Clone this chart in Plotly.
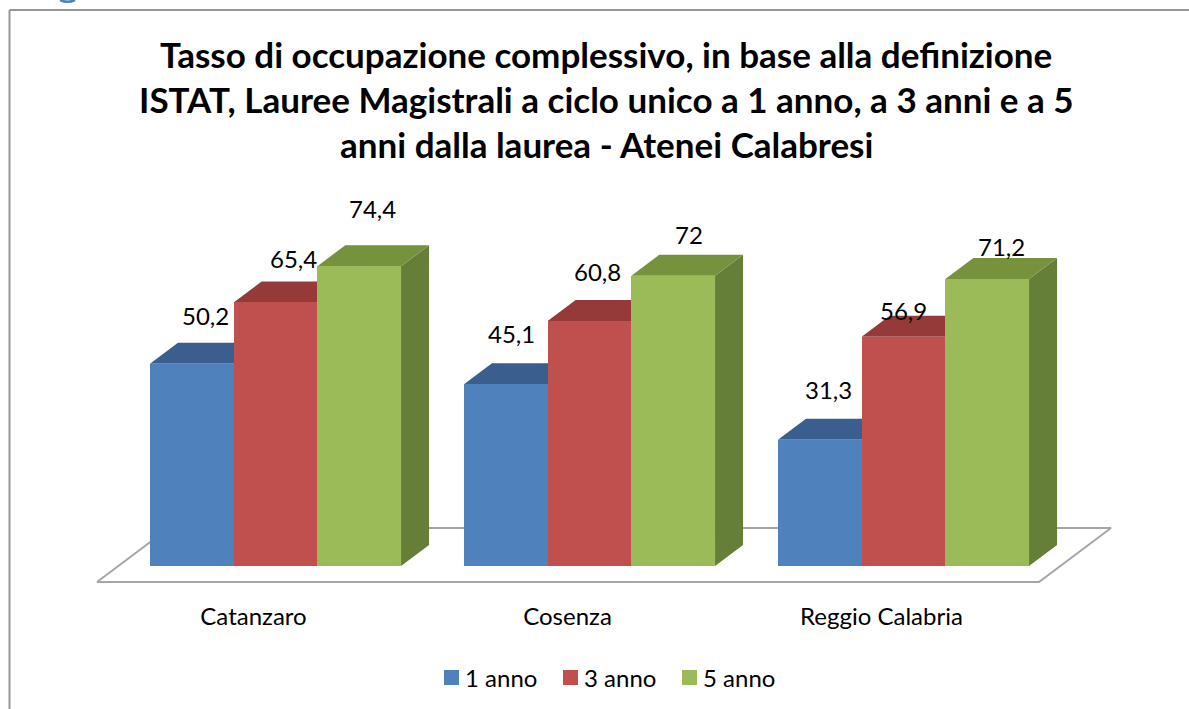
import plotly.graph_objects as go

categories = ["Catanzaro", "Cosenza", "Reggio Calabria"]
series_names = ["1 anno", "3 anno", "5 anno"]
values_1_anno = [50.2, 45.1, 31.3]
values_3_anno = [65.4, 60.8, 56.9]
values_5_anno = [74.4, 72, 71.2]
title_lines = [
    "Tasso di occupazione complessivo, in base alla definizione",
    "ISTAT, Lauree Magistrali a ciclo unico a 1 anno, a 3 anni e a 5",
    "anni dalla laurea - Atenei Calabresi",
]

FONT = "Lato"
W, H = 1189, 709
L, R, T, B = 90, 1120, 190, 590      # plot area in page pixels
GROUP_PX = 314.0                     # pixels per category
Y_PX = 4.03                          # pixels per unit
X0_PX = 275.5                        # centre of the first group
BASE_PX = 566.0                      # y = 0
BAR_W = 83.7 / GROUP_PX
DX = 28.0 / GROUP_PX                 # receding depth in axis units
DY = 21.0 / Y_PX

x_range = [(L - X0_PX) / GROUP_PX, (R - X0_PX) / GROUP_PX]
y_range = [(BASE_PX - B) / Y_PX, (BASE_PX - T) / Y_PX]

series = [values_1_anno, values_3_anno, values_5_anno]
front = ["#4F81BD", "#C0504D", "#9BBB59"]
top = ["#3A5F8E", "#953A38", "#76923C"]
side = ["#2F4D73", "#7A2F2D", "#667F38"]

fig = go.Figure()

# floor, in axis units, around the category span
fl = -16.0 / Y_PX
fb = 38.0 / Y_PX
fx0 = (97 - X0_PX) / GROUP_PX
fx1 = (1039 - X0_PX) / GROUP_PX
fdx = 72.0 / GROUP_PX
fig.add_trace(go.Scatter(
    x=[fx0, fx1, fx1 + fdx, fx0 + fdx, fx0], y=[fl, fl, fb, fb, fl],
    mode="lines", line=dict(color="#A6A6A6", width=2), fill="toself",
    fillcolor="white", showlegend=False, hoverinfo="skip"))

# receding faces of every bar
for s, vals in enumerate(series):
    off = (s - 1) * BAR_W
    for i, v in enumerate(vals):
        x1 = i + off + BAR_W / 2
        x0 = x1 - BAR_W
        fig.add_trace(go.Scatter(
            x=[x1, x1 + DX, x1 + DX, x1, x1], y=[0, DY, v + DY, v, 0],
            mode="lines", line=dict(width=0), fill="toself", fillcolor=side[s],
            showlegend=False, hoverinfo="skip"))
        fig.add_trace(go.Scatter(
            x=[x0, x1, x1 + DX, x0 + DX, x0], y=[v, v, v + DY, v + DY, v],
            mode="lines", line=dict(width=0), fill="toself", fillcolor=top[s],
            showlegend=False, hoverinfo="skip"))

# front faces, on an overlay pair of axes so they stay above the receding faces
for s, vals in enumerate(series):
    fig.add_trace(go.Bar(
        x=[i + (s - 1) * BAR_W for i in range(len(categories))], y=vals, width=BAR_W,
        name=series_names[s], marker=dict(color=front[s], line=dict(width=0)),
        showlegend=False, xaxis="x2", yaxis="y2"))

# label offsets from each bar's top centre, in pixels
label_dx = [[14, 6, 9], [18, 8, 0], [13, 16, 14]]
label_dy = [[48, 51, 50], [44, 49, 26], [58, 41, 33]]
annotations = []
for s, vals in enumerate(series):
    for i, v in enumerate(vals):
        annotations.append(dict(
            x=i + (s - 1) * BAR_W, y=v, xref="x", yref="y",
            text=f"{v:g}".replace(".", ","), showarrow=False,
            xshift=label_dx[s][i], yshift=label_dy[s][i],
            font=dict(family=FONT, size=24, color="black")))

title_y = [54, 99, 144]
for line, y in zip(title_lines, title_y):
    annotations.append(dict(
        x=606 / W, y=1 - y / H, xref="paper", yref="paper", text=f"<b>{line}</b>",
        showarrow=False, xanchor="center", yanchor="middle",
        font=dict(family=FONT, size=35, color="black")))

shapes = [
    dict(type="line", xref="paper", yref="paper", x0=9.5 / W, x1=1, y0=1 - 10 / H, y1=1 - 10 / H,
         line=dict(color="#969696", width=2)),
    dict(type="line", xref="paper", yref="paper", x0=9.5 / W, x1=9.5 / W, y0=0, y1=1 - 10 / H,
         line=dict(color="#969696", width=2)),
    # clipped remnant of the page heading above the chart
    dict(type="path", xref="paper", yref="paper",
         path=f"M {60 / W} 1 Q {67.5 / W} {1 - 3.5 / H} {75 / W} 1",
         line=dict(color="#4F81BD", width=2.5)),
]

# legend row
legend_x = [444, 563, 682]
for name, color, lx in zip(series_names, front, legend_x):
    shapes.append(dict(type="rect", xref="paper", yref="paper", x0=lx / W, x1=(lx + 15) / W,
                       y0=1 - 685 / H, y1=1 - 670 / H, fillcolor=color, line=dict(width=0)))
    annotations.append(dict(
        x=(lx + 19) / W, y=1 - 677 / H, xref="paper", yref="paper", text=name, showarrow=False,
        xanchor="left", yanchor="middle", font=dict(family=FONT, size=24, color="black")))

axis_x = dict(range=x_range, domain=[L / W, R / W], showgrid=False, zeroline=False,
              showline=False)
axis_y = dict(range=y_range, domain=[1 - B / H, 1 - T / H], showgrid=False, zeroline=False,
              showline=False, showticklabels=False, ticks="")

fig.update_layout(
    width=W, height=H, autosize=False,
    margin=dict(l=0, r=0, t=0, b=0),
    paper_bgcolor="white", plot_bgcolor="rgba(0,0,0,0)",
    font=dict(family=FONT, size=24, color="black"),
    barmode="overlay", bargap=0,
    xaxis=dict(axis_x, tickmode="array",
               tickvals=[i - 22.0 / GROUP_PX for i in range(len(categories))],
               ticktext=categories, ticks="", ticklabelstandoff=10,
               tickfont=dict(family=FONT, size=24, color="black")),
    yaxis=axis_y,
    xaxis2=dict(axis_x, overlaying="x", anchor="y2", showticklabels=False, ticks=""),
    yaxis2=dict(axis_y, overlaying="y", anchor="x2"),
    annotations=annotations,
    shapes=shapes,
    showlegend=False,
)
fig.write_html(
    "out.html",
    config={"displayModeBar": False},
    post_script="document.body.style.margin='0';document.documentElement.style.overflow='hidden';",
)
